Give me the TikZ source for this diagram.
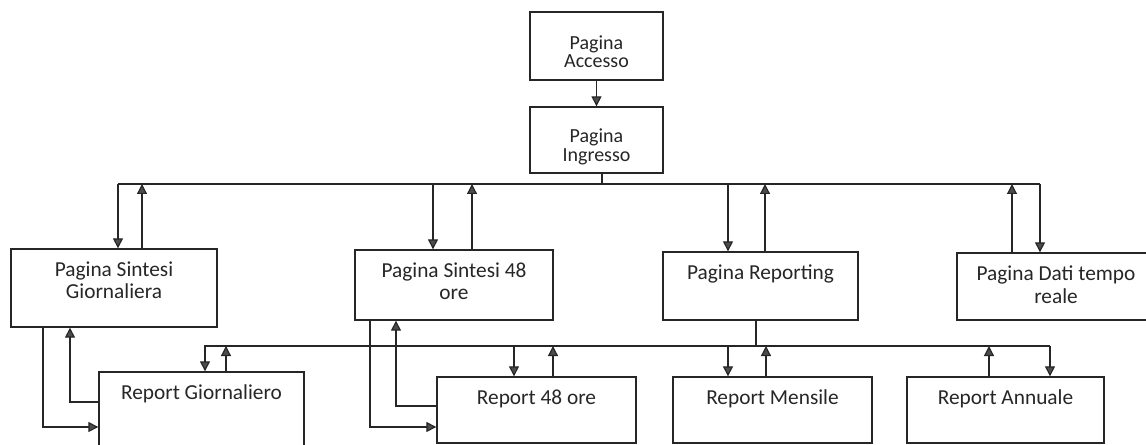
\documentclass[tikz,border=0pt]{standalone}
\usepackage{fontspec}
\setmainfont{Carlito}
\usetikzlibrary{arrows.meta,fit}
\newcommand\mybox[7][]{%
  \node[box,fit={(#3,#4) (#5,#6)}] (#2) {};
  \node[lbl,#1] (#2-t) at (#2.north) {#7};}
\begin{document}
\begin{tikzpicture}[x=0.75pt,y=-0.75pt,
  box/.style={draw=black!85,line width=1pt,inner sep=0pt},
  lbl/.style={font=\fontsize{16}{17}\selectfont,align=center,inner sep=0pt,anchor=north,text=black!85,yshift=-9.75pt},
  tight/.style={font=\fontsize{15}{14.2}\selectfont},
  arr/.style={draw=black!85,line width=0.9pt,-{Triangle[width=7.5pt,length=7.5pt,fill=black!70]}},
  ln/.style={draw=black!85,line width=0.9pt}]
\useasboundingbox (0,0) rectangle (1146,445);
% boxes
\mybox[tight,yshift=-8pt]{acc}{530}{12}{663}{80}{Pagina\\Accesso}
\mybox[tight,yshift=-7pt]{ing}{530}{107}{663}{173}{Pagina\\Ingresso}
\mybox{psg}{11}{249}{217}{327}{Pagina Sintesi\\Giornaliera}
\mybox{ps48}{355}{250}{553}{320}{Pagina Sintesi 48\\ore}
\mybox{prep}{663}{252}{858}{320}{Pagina Reporting}
\mybox{pdati}{957}{253}{1155}{320}{Pagina Dati tempo\\reale}
\mybox{rg}{99}{372}{304}{452}{Report Giornaliero}
\mybox{r48}{437}{377}{636}{443}{Report 48 ore}
\mybox{rm}{673}{377}{872}{443}{Report Mensile}
\mybox{ra}{907}{377}{1104}{443}{Report Annuale}
% top connectors
\draw[arr] (acc.south) -- (ing.north);
\coordinate (bt) at (602,184);
\coordinate (bl) at (118,184);
\coordinate (br) at (1040,184);
\draw[ln] (bt |- ing.south) -- (bt);
\draw[ln] (bl) -- (br);
\coordinate (d1) at (118,184);
\coordinate (u1) at (142,184);
\coordinate (d2) at (433,184);
\coordinate (u2) at (472,184);
\coordinate (d3) at (728,184);
\coordinate (u3) at (765,184);
\coordinate (d4) at (1040,184);
\coordinate (u4) at (1012,184);
\draw[arr] (d1) -- (d1 |- psg.north);
\draw[arr] (u1 |- psg.north) -- (u1);
\draw[arr] (d2) -- (d2 |- ps48.north);
\draw[arr] (u2 |- ps48.north) -- (u2);
\draw[arr] (d3) -- (d3 |- prep.north);
\draw[arr] (u3 |- prep.north) -- (u3);
\draw[arr] (d4) -- (d4 |- pdati.north);
\draw[arr] (u4 |- pdati.north) -- (u4);
% second bus
\coordinate (cb) at (756,346);
\coordinate (cl) at (204,346);
\coordinate (cr) at (1050,346);
\draw[ln] (cb |- prep.south) -- (cb);
\draw[ln] (cl) -- (cr);
\coordinate (e1) at (205,346);
\coordinate (v1) at (226,346);
\coordinate (e2) at (514,346);
\coordinate (v2) at (553,346);
\coordinate (e3) at (728,346);
\coordinate (v3) at (766,346);
\coordinate (e4) at (1050,346);
\coordinate (v4) at (989,346);
\draw[arr] (e1) -- (e1 |- rg.north);
\draw[arr] (v1 |- rg.north) -- (v1);
\draw[arr] (e2) -- (e2 |- r48.north);
\draw[arr] (v2 |- r48.north) -- (v2);
\draw[arr] (e3) -- (e3 |- rm.north);
\draw[arr] (v3 |- rm.north) -- (v3);
\draw[arr] (e4) -- (e4 |- ra.north);
\draw[arr] (v4 |- ra.north) -- (v4);
% side loops
\coordinate (l1) at (43,427);
\coordinate (l2) at (70,402);
\coordinate (l3) at (370,427);
\coordinate (l4) at (396,406);
\draw[arr] (l1 |- psg.south) -- (l1) -- (l1 -| rg.west);
\draw[arr] (l2 -| rg.west) -- (l2) -- (l2 |- psg.south);
\draw[arr] (l3 |- ps48.south) -- (l3) -- (l3 -| r48.west);
\draw[arr] (l4 -| r48.west) -- (l4) -- (l4 |- ps48.south);
\end{tikzpicture}
\end{document}
